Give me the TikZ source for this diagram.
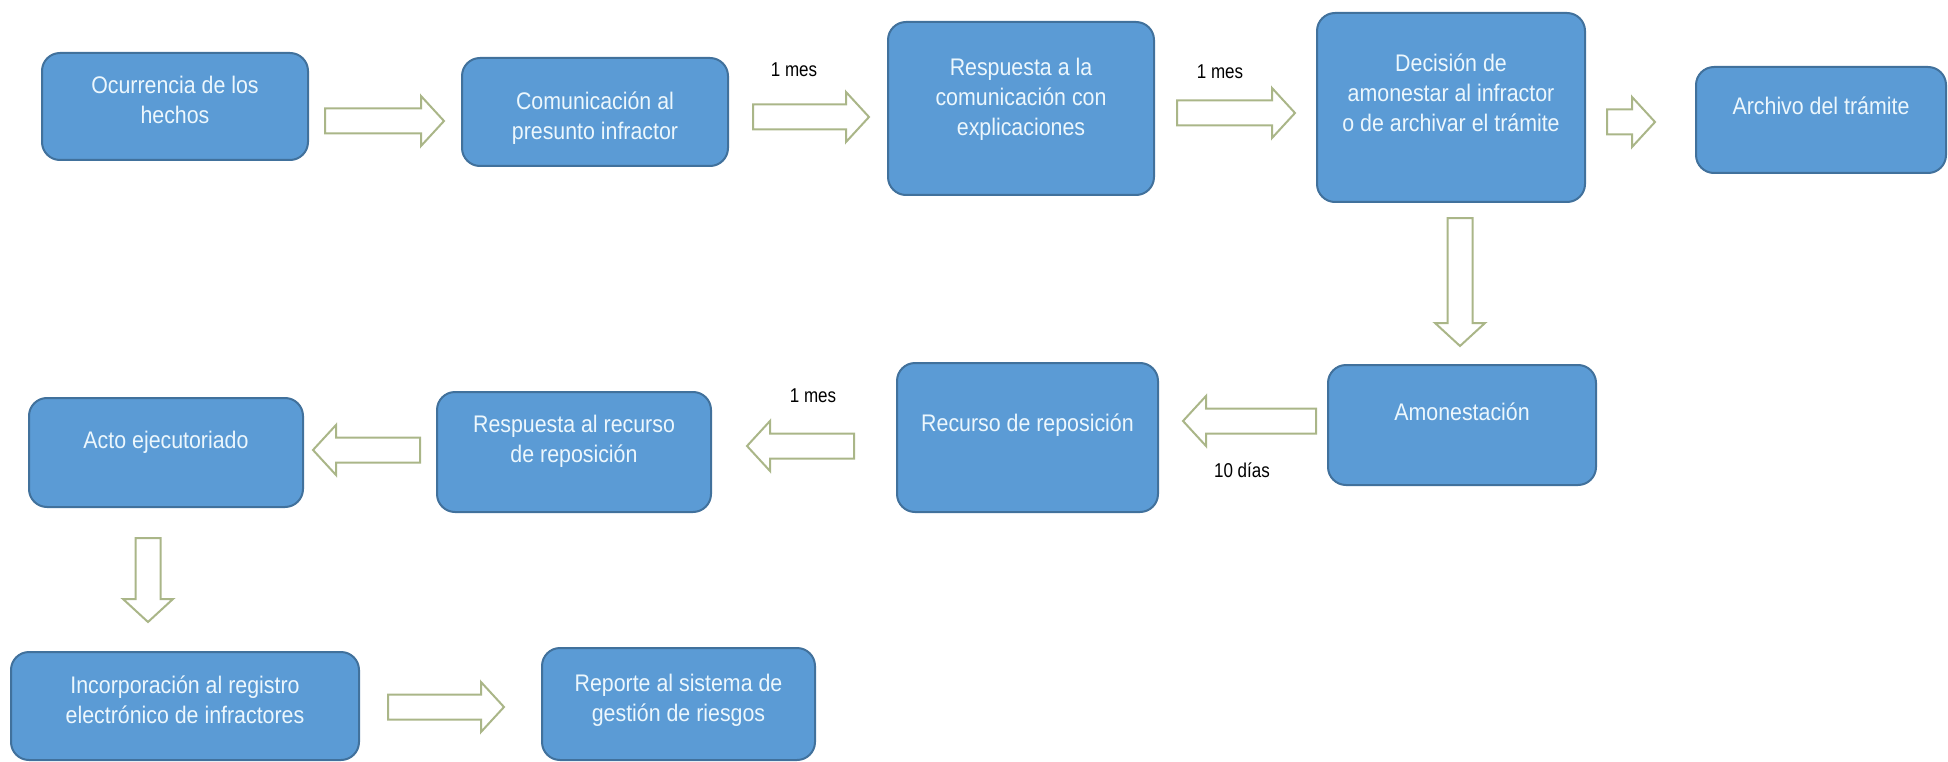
\documentclass[tikz,border=0pt]{standalone}
\usepackage{fontspec}
\setmainfont{Liberation Sans}
\newfontfamily\boxfont{Liberation Sans}[FakeStretch=0.89]
\newfontfamily\lblfont{Liberation Sans}[FakeStretch=0.85]
\usetikzlibrary{calc}
\definecolor{boxblue}{RGB}{91,155,213}
\definecolor{boxedge}{RGB}{65,113,156}
\definecolor{boxtext}{RGB}{236,247,253}
\definecolor{arrline}{RGB}{170,182,136}
% hollow block arrow from tail #1 to tip #2
\newcommand\barrow[2]{%
 \coordinate (hb) at ($(#2)!23pt!(#1)$);
 \path [b] ($(#1)!12.5pt!90:(#2)$) -- ($(hb)!12.5pt!90:(#2)$) -- ($(hb)!25pt!90:(#2)$)
  -- (#2) -- ($(hb)!25pt!-90:(#2)$) -- ($(hb)!12.5pt!-90:(#2)$) -- ($(#1)!12.5pt!-90:(#2)$) -- cycle;}
\begin{document}
\begin{tikzpicture}[x=1pt,y=-1pt]
 \tikzstyle{box} = [draw=boxedge,fill=boxblue,line width=2pt,rounded corners=18pt,inner sep=0pt]
 \tikzstyle{t} = [text=boxtext,align=center,font=\boxfont\fontsize{24}{30}\selectfont]
 \tikzstyle{lbl} = [text=black,font=\lblfont\fontsize{20}{24}\selectfont]
 \tikzstyle{b} = [draw=arrline,fill=white,line width=2pt,line join=miter]
 \useasboundingbox (0,0) rectangle (1948,762);
 \path
 (175,106.5) node[box,minimum width=266pt,minimum height=107pt] (ocurr) {}
 (595,112) node[box,minimum width=266pt,minimum height=108pt] (comun) {}
 (1021,108.5) node[box,minimum width=266pt,minimum height=173pt] (resp) {}
 (1451,107.5) node[box,minimum width=268pt,minimum height=189pt] (decis) {}
 (1821,120) node[box,minimum width=250pt,minimum height=106pt] (archivo) {}
 (1462,425) node[box,minimum width=268pt,minimum height=120pt] (amon) {}
 (1027.5,437.5) node[box,minimum width=261pt,minimum height=149pt] (recurso) {}
 (574,452) node[box,minimum width=274pt,minimum height=120pt] (resprec) {}
 (166,452.5) node[box,minimum width=274pt,minimum height=109pt] (acto) {}
 (185,706) node[box,minimum width=348pt,minimum height=108pt] (incorp) {}
 (678.5,704) node[box,minimum width=273pt,minimum height=112pt] (reporte) {}
 ;
 \node[t] (ocurr-t) at ([yshift=7pt]ocurr.center) {Ocurrencia de los\\hechos};
 \node[t] (comun-t) at ([yshift=-6pt]comun.center) {Comunicación al\\presunto infractor};
 \node[t] (resp-t) at ([yshift=9.5pt]resp.center) {Respuesta a la\\comunicación con\\explicaciones};
 \node[t] (decis-t) at ([yshift=14.5pt]decis.center) {Decisión de\\amonestar al infractor\\o de archivar el trámite};
 \node[t] (archivo-t) at ([yshift=14pt]archivo.center) {Archivo del trámite};
 \node[t] (amon-t) at ([yshift=13pt]amon.center) {Amonestación};
 \node[t] (recurso-t) at ([yshift=12.5pt]recurso.center) {Recurso de reposición};
 \node[t] (resprec-t) at ([yshift=11pt]resprec.center) {Respuesta al recurso\\de reposición};
 \node[t] (acto-t) at ([yshift=10.5pt]acto.center) {Acto ejecutoriado};
 \node[t] (incorp-t) at ([yshift=6pt]incorp.center) {Incorporación al registro\\electrónico de infractores};
 \node[t] (reporte-t) at ([yshift=4pt]reporte.center) {Reporte al sistema de\\gestión de riesgos};
 \coordinate (a1s) at ($(ocurr.east)+(16,14.5)$);
 \coordinate (a1e) at ($(comun.west)+(-17,9)$);
 \coordinate (a2s) at ($(comun.east)+(24,5)$);
 \coordinate (a2e) at ($(resp.west)+(-18,8.5)$);
 \coordinate (a3s) at ($(resp.east)+(22,4.5)$);
 \coordinate (a3e) at ($(decis.west)+(-21,5.5)$);
 \coordinate (a4s) at ($(decis.east)+(21,14.5)$);
 \coordinate (a4e) at ($(archivo.west)+(-40,2)$);
 \coordinate (a5s) at ($(decis.south)+(9,15)$);
 \coordinate (a5e) at ($(amon.north)+(-2,-18)$);
 \coordinate (a6s) at ($(amon.west)+(-11,-4)$);
 \coordinate (a6e) at ($(recurso.east)+(24,-16.5)$);
 \coordinate (a7s) at ($(recurso.west)+(-42,8.5)$);
 \coordinate (a7e) at ($(resprec.east)+(35,-6)$);
 \coordinate (a8s) at ($(resprec.west)+(-16,-2)$);
 \coordinate (a8e) at ($(acto.east)+(9,-2.5)$);
 \coordinate (a9s) at ($(acto.south)+(-18,30)$);
 \coordinate (a9e) at ($(incorp.north)+(-37,-29)$);
 \coordinate (a10s) at ($(incorp.east)+(28,1)$);
 \coordinate (a10e) at ($(reporte.west)+(-37,3)$);
 \barrow{a1s}{a1e}
 \barrow{a2s}{a2e}
 \barrow{a3s}{a3e}
 \barrow{a4s}{a4e}
 \barrow{a5s}{a5e}
 \barrow{a6s}{a6e}
 \barrow{a7s}{a7e}
 \barrow{a8s}{a8e}
 \barrow{a9s}{a9e}
 \barrow{a10s}{a10e}
 \node[lbl] (mes1) at ($(a2s)!.5!(a2e)+(-17,-47)$) {1 mes};
 \node[lbl] (mes2) at ($(a3s)!.5!(a3e)+(-16,-41)$) {1 mes};
 \node[lbl] (mes3) at ($(a7s)!.5!(a7e)+(12.5,-50)$) {1 mes};
 \node[lbl] (dias) at ($(a6s)!.5!(a6e)+(-7.5,49)$) {10 días};
\end{tikzpicture}
\end{document}
